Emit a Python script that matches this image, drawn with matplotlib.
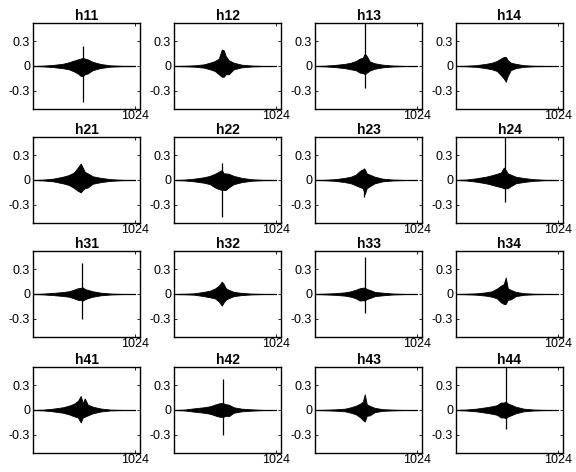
import matplotlib
matplotlib.use("Agg")
import matplotlib.pyplot as plt

# nombres de cada respuesta
titles = ["h11", "h12", "h13", "h14",
          "h21", "h22", "h23", "h24",
          "h31", "h32", "h33", "h34",
          "h41", "h42", "h43", "h44"]

# muestras donde se leyo la envolvente
samples = [0, 100, 200, 300, 360, 410, 450, 480, 500, 520, 550, 600, 680, 780, 900, 1024]

env_up = [
    [.002, .005, .013, .027, .045, .065, .08, .09, .1, .09, .08, .05, .024, .008, .003, .002],
    [.002, .004, .008, .02, .04, .06, .09, .2, .19, .12, .07, .04, .016, .006, .002, .002],
    [.002, .005, .013, .026, .04, .06, .09, .1, .15, .12, .055, .033, .016, .006, .002, .002],
    [.002, .004, .01, .026, .04, .06, .09, .11, .11, .07, .04, .026, .01, .004, .002, .002],
    [.002, .005, .016, .04, .06, .09, .15, .2, .15, .1, .08, .045, .026, .01, .003, .002],
    [.002, .005, .016, .033, .05, .075, .1, .12, .08, .08, .075, .05, .026, .009, .003, .002],
    [.002, .004, .01, .026, .04, .065, .11, .13, .13, .08, .065, .04, .016, .006, .002, .002],
    [.002, .006, .02, .04, .058, .075, .09, .15, .12, .08, .065, .04, .024, .01, .003, .002],
    [.002, .005, .013, .024, .033, .052, .07, .075, .08, .06, .05, .033, .016, .006, .002, .002],
    [.002, .004, .008, .026, .04, .065, .1, .15, .12, .07, .05, .026, .013, .005, .002, .002],
    [.002, .005, .01, .02, .033, .052, .07, .075, .08, .06, .05, .026, .016, .006, .002, .002],
    [.002, .004, .008, .02, .033, .065, .1, .12, .2, .07, .05, .026, .01, .004, .002, .002],
    [.002, .005, .016, .033, .052, .075, .11, .17, .08, .14, .065, .04, .018, .005, .002, .002],
    [.002, .005, .02, .033, .045, .065, .08, .085, .08, .07, .065, .033, .016, .008, .002, .002],
    [.002, .004, .008, .016, .033, .052, .075, .1, .19, .07, .05, .026, .01, .005, .002, .002],
    [.002, .006, .016, .033, .045, .058, .09, .09, .1, .08, .065, .04, .016, .006, .002, .002],
]

env_lo = [
    [-.002, -.005, -.013, -.027, -.04, -.065, -.09, -.12, -.12, -.1, -.09, -.05, -.024, -.008, -.003, -.002],
    [-.002, -.004, -.008, -.02, -.04, -.06, -.1, -.13, -.13, -.1, -.1, -.04, -.016, -.006, -.002, -.002],
    [-.002, -.005, -.013, -.026, -.04, -.052, -.08, -.085, -.1, -.08, -.055, -.033, -.016, -.006, -.002, -.002],
    [-.002, -.004, -.01, -.026, -.04, -.06, -.11, -.15, -.19, -.12, -.05, -.026, -.01, -.004, -.002, -.002],
    [-.002, -.005, -.016, -.04, -.06, -.095, -.13, -.15, -.12, -.1, -.09, -.045, -.026, -.01, -.003, -.002],
    [-.002, -.005, -.016, -.033, -.05, -.09, -.11, -.12, -.12, -.12, -.09, -.05, -.026, -.009, -.003, -.002],
    [-.002, -.004, -.01, -.026, -.04, -.065, -.085, -.1, -.17, -.1, -.075, -.04, -.016, -.006, -.002, -.002],
    [-.002, -.006, -.02, -.04, -.058, -.075, -.085, -.1, -.1, -.1, -.075, -.04, -.024, -.01, -.003, -.002],
    [-.002, -.005, -.013, -.024, -.033, -.052, -.07, -.075, -.08, -.065, -.05, -.033, -.016, -.006, -.002, -.002],
    [-.002, -.004, -.008, -.026, -.04, -.052, -.09, -.14, -.1, -.07, -.05, -.026, -.013, -.005, -.002, -.002],
    [-.002, -.005, -.01, -.02, -.033, -.052, -.08, -.075, -.08, -.06, -.05, -.026, -.016, -.006, -.002, -.002],
    [-.002, -.004, -.008, -.02, -.033, -.052, -.1, -.12, -.12, -.07, -.065, -.026, -.01, -.004, -.002, -.002],
    [-.002, -.005, -.016, -.033, -.052, -.075, -.09, -.15, -.09, -.08, -.065, -.04, -.018, -.005, -.002, -.002],
    [-.002, -.005, -.02, -.033, -.045, -.065, -.08, -.085, -.08, -.07, -.075, -.033, -.016, -.008, -.002, -.002],
    [-.002, -.004, -.008, -.016, -.033, -.052, -.085, -.12, -.14, -.07, -.065, -.026, -.01, -.005, -.002, -.002],
    [-.002, -.006, -.016, -.033, -.045, -.058, -.09, -.09, -.1, -.08, -.065, -.04, -.016, -.006, -.002, -.002],
]

# pico principal (muestra, maximo, minimo); None si no hay
spike_pos = [505, None, 498, None, None, 482, 490, 490, 490, None, 500, None, None, 488, None, 500]
spike_top = [0.24, None, 0.6, None, None, 0.2, 0.14, 0.6, 0.38, None, 0.45, None, None, 0.37, None, 0.6]
spike_bot = [-0.44, None, -0.26, None, None, -0.45, -0.2, -0.27, -0.3, None, -0.23, None, None, -0.3, None, -0.23]

ytick_vals = [-0.3, 0, 0.3]
ytick_text = ["-0.3", "0", "0.3"]

W, H = 576, 472
fig = plt.figure(figsize=(W / 100, H / 100), dpi=100)
plt.rcParams['font.family'] = ['Liberation Sans', 'DejaVu Sans']

lefts = [33, 174, 315, 456]
tops = [23, 137, 251, 367]
aw, ah = 107, 86

for i, name in enumerate(titles):
    r, c = divmod(i, 4)
    ax = fig.add_axes([lefts[c] / W, 1 - (tops[r] + ah) / H, aw / W, ah / H])
    ax.fill_between(samples, env_lo[i], env_up[i], color='k', lw=0.6)
    ax.plot([0, 1024], [0, 0], color='k', lw=0.8)
    if spike_pos[i] is not None:
        ax.vlines(spike_pos[i], spike_bot[i], spike_top[i], color='k', lw=0.9)
    ax.set_xlim(0, 1075)
    ax.set_ylim(-0.52, 0.52)
    ax.set_xticks([1024])
    ax.set_xticklabels(["1024"])
    ax.set_yticks(ytick_vals)
    ax.set_yticklabels(ytick_text)
    ax.tick_params(direction='in', length=2, width=0.6, labelsize=9,
                   top=True, right=True, pad=2)
    ax.tick_params(axis='x', pad=1)
    for sp in ax.spines.values():
        sp.set_linewidth(1.0)
    ax.set_title(name, fontsize=10, fontweight='bold', pad=2)

fig.savefig("out.png", dpi=100)
